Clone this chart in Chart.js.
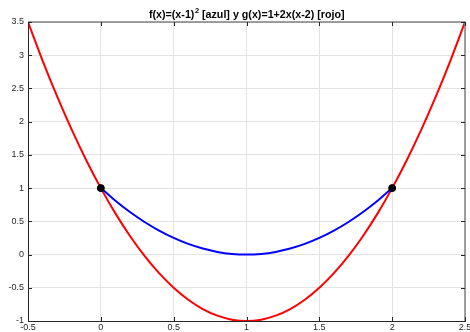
<!DOCTYPE html>
<html>
<head>
<meta charset="utf-8">
<script src="https://cdn.jsdelivr.net/npm/chart.js@4"></script>
<style>
  html, body { margin: 0; padding: 0; background: #fff; }
  #wrap { width: 470px; height: 332px; }
</style>
</head>
<body>
<div id="wrap"><canvas id="chart" width="470" height="332"></canvas></div>
<script>
// title pieces: base text, superscript, rest
const titleParts = ["f(x)=(x-1)", "2", " [azul] y g(x)=1+2x(x-2) [rojo]"];

// red curve g(x)
const redX = [-0.5, -0.4, -0.3, -0.2, -0.1, 0, 0.1, 0.2, 0.3, 0.4, 0.5, 0.6, 0.7, 0.8, 0.9, 1,
  1.1, 1.2, 1.3, 1.4, 1.5, 1.6, 1.7, 1.8, 1.9, 2, 2.1, 2.2, 2.3, 2.4, 2.5];
const redY = [3.5, 2.92, 2.38, 1.88, 1.42, 1, 0.62, 0.28, -0.02, -0.28, -0.5, -0.68, -0.82, -0.92, -0.98, -1,
  -0.98, -0.92, -0.82, -0.68, -0.5, -0.28, -0.02, 0.28, 0.62, 1, 1.42, 1.88, 2.38, 2.92, 3.5];

// blue curve f(x)
const blueX = [0, 0.1, 0.2, 0.3, 0.4, 0.5, 0.6, 0.7, 0.8, 0.9, 1, 1.1, 1.2, 1.3, 1.4, 1.5, 1.6, 1.7, 1.8, 1.9, 2];
const blueY = [1, 0.81, 0.64, 0.49, 0.36, 0.25, 0.16, 0.09, 0.04, 0.01, 0, 0.01, 0.04, 0.09, 0.16, 0.25, 0.36, 0.49, 0.64, 0.81, 1];

// intersection points
const dotX = [0, 2];
const dotY = [1, 1];

const xTicks = [-0.5, 0, 0.5, 1, 1.5, 2, 2.5];
const yTicks = [-1, -0.5, 0, 0.5, 1, 1.5, 2, 2.5, 3, 3.5];

const toPoints = (xs, ys) => xs.map((x, i) => ({ x: x, y: ys[i] }));

const font = "'Liberation Sans', Arial, sans-serif";
const tickColor = "#262626";

// MATLAB style box: inward ticks on all sides, grey top/right edge, title over the plot area
const boxPlugin = {
  id: "box",
  afterDraw(chart) {
    const ctx = chart.ctx;
    const a = chart.chartArea;
    const xs = chart.scales.x;
    const ys = chart.scales.y;
    ctx.save();
    ctx.strokeStyle = "#808080";
    ctx.lineWidth = 1.5;
    ctx.beginPath();
    ctx.moveTo(a.left, a.top);
    ctx.lineTo(a.right, a.top);
    ctx.lineTo(a.right, a.bottom);
    ctx.stroke();

    ctx.strokeStyle = tickColor;
    ctx.lineWidth = 1;
    ctx.beginPath();
    const len = 4;
    for (const v of xTicks) {
      const px = Math.round(xs.getPixelForValue(v)) + 0.5;
      ctx.moveTo(px, a.bottom);
      ctx.lineTo(px, a.bottom - len);
      ctx.moveTo(px, a.top);
      ctx.lineTo(px, a.top + len);
    }
    for (const v of yTicks) {
      const py = Math.round(ys.getPixelForValue(v)) + 0.5;
      ctx.moveTo(a.left, py);
      ctx.lineTo(a.left + len, py);
      ctx.moveTo(a.right, py);
      ctx.lineTo(a.right - len, py);
    }
    ctx.stroke();

    // title with a real superscript
    ctx.fillStyle = "#000";
    ctx.textBaseline = "alphabetic";
    ctx.textAlign = "left";
    const big = "bold 10.7px " + font;
    const small = "bold 7.5px " + font;
    ctx.font = big;
    const w0 = ctx.measureText(titleParts[0]).width;
    const w2 = ctx.measureText(titleParts[2]).width;
    ctx.font = small;
    const w1 = ctx.measureText(titleParts[1]).width;
    let x = (a.left + a.right) / 2 - (w0 + w1 + w2) / 2;
    const base = 18;
    ctx.font = big;
    ctx.fillText(titleParts[0], x, base);
    x += w0;
    ctx.font = small;
    ctx.fillText(titleParts[1], x + 0.5, base - 5);
    x += w1 + 0.5;
    ctx.font = big;
    ctx.fillText(titleParts[2], x, base);
    ctx.restore();
  }
};

const fmt = (v) => String(v);

new Chart(document.getElementById("chart"), {
  type: "scatter",
  data: {
    datasets: [
      {
        label: "puntos",
        data: toPoints(dotX, dotY),
        showLine: false,
        pointRadius: 3.5,
        pointBackgroundColor: "#000",
        pointBorderColor: "#000",
        order: 0
      },
      {
        label: "f(x)",
        data: toPoints(blueX, blueY),
        showLine: true,
        borderColor: "#0000ff",
        borderWidth: 2,
        pointRadius: 0,
        tension: 0.3,
        order: 1
      },
      {
        label: "g(x)",
        data: toPoints(redX, redY),
        showLine: true,
        borderColor: "#ff0000",
        borderWidth: 2,
        pointRadius: 0,
        tension: 0.3,
        order: 2
      }
    ]
  },
  options: {
    responsive: false,
    animation: false,
    layout: { padding: { top: 22, right: 5, left: 0, bottom: 0 } },
    plugins: {
      legend: { display: false },
      title: { display: false },
      tooltip: { enabled: false }
    },
    scales: {
      x: {
        type: "linear",
        min: -0.5,
        max: 2.5,
        afterBuildTicks: (s) => { s.ticks = xTicks.map(v => ({ value: v })); },
        afterFit: (s) => { s.height = 11; s.paddingLeft = 0; s.paddingRight = 0; },
        grid: { color: "#e3e3e3", drawTicks: false },
        border: { color: tickColor, width: 1 },
        ticks: {
          color: tickColor,
          font: { family: font, size: 9 },
          padding: 1,
          maxRotation: 0,
          autoSkip: false,
          callback: fmt
        }
      },
      y: {
        type: "linear",
        min: -1,
        max: 3.5,
        afterBuildTicks: (s) => { s.ticks = yTicks.map(v => ({ value: v })); },
        afterFit: (s) => { s.width = 28; s.paddingTop = 0; s.paddingBottom = 0; },
        grid: { color: "#e3e3e3", drawTicks: false },
        border: { color: tickColor, width: 1 },
        ticks: {
          color: tickColor,
          font: { family: font, size: 9 },
          padding: 4,
          autoSkip: false,
          callback: fmt
        }
      }
    }
  },
  plugins: [boxPlugin]
});
</script>
</body>
</html>
